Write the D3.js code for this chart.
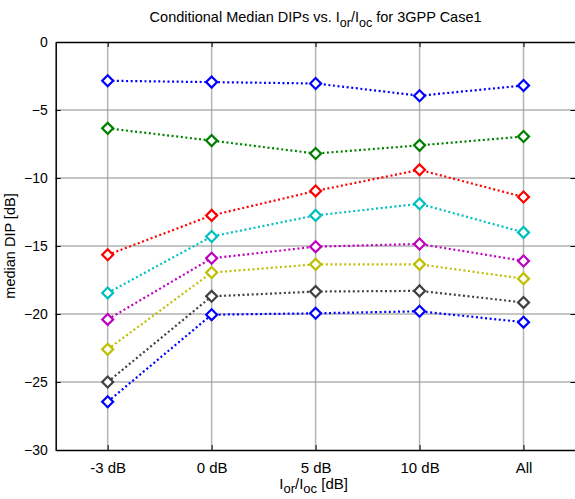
<!DOCTYPE html>
<html>
<head>
<meta charset="utf-8">
<script src="https://cdn.jsdelivr.net/npm/d3@7"></script>
<style>
  html, body { margin: 0; padding: 0; background: #fff; }
  svg { display: block; font-family: "Liberation Sans", Arial, sans-serif; }
</style>
</head>
<body>
<svg id="chart" width="575" height="499"></svg>
<script>
const categories = ["-3 dB", "0 dB", "5 dB", "10 dB", "All"];
const yTicks = [0, -5, -10, -15, -20, -25, -30];

const s1 = [-2.85, -2.95, -3.05, -3.95, -3.2];
const s2 = [-6.35, -7.25, -8.2, -7.6, -6.95];
const s3 = [-15.65, -12.75, -10.95, -9.4, -11.4];
const s4 = [-18.45, -14.3, -12.75, -11.9, -14.0];
const s5 = [-20.4, -15.9, -15.05, -14.85, -16.1];
const s6 = [-22.6, -16.95, -16.35, -16.35, -17.4];
const s7 = [-25.0, -18.7, -18.35, -18.3, -19.15];
const s8 = [-26.45, -20.05, -19.95, -19.8, -20.6];

const seriesValues = [s1, s2, s3, s4, s5, s6, s7, s8];
const seriesColors = ["#0000ff", "#008000", "#ff0000", "#00bfbf", "#bf00bf", "#bfbf00", "#404040", "#0000ff"];

const svg = d3.select("#chart");
const pLeft = 55.7, pRight = 575.5, pTop = 42, pBottom = 450;

const x = d3.scaleLinear().domain([0.5, categories.length + 0.5]).range([pLeft, pRight]);
const y = d3.scaleLinear().domain([-30, 0]).range([pBottom, pTop]);

// grid
const grid = svg.append("g");
grid.selectAll("line.v").data(categories).enter().append("line")
  .attr("x1", (d, i) => x(i + 1)).attr("x2", (d, i) => x(i + 1))
  .attr("y1", pTop).attr("y2", pBottom)
  .attr("stroke", "#b4b4b4").attr("stroke-width", 1.5);
grid.selectAll("line.h").data(yTicks.slice(1, -1)).enter().append("line")
  .attr("x1", pLeft).attr("x2", pRight)
  .attr("y1", d => y(d)).attr("y2", d => y(d))
  .attr("stroke", "#8c8c8c").attr("stroke-width", 1.2);

// axes (box)
const xAxisB = d3.axisBottom(x).tickValues(d3.range(1, categories.length + 1))
  .tickFormat(d => categories[d - 1]).tickSizeInner(-5).tickSizeOuter(0).tickPadding(12);
const xAxisT = d3.axisTop(x).tickValues(d3.range(1, categories.length + 1))
  .tickFormat("").tickSizeInner(-5).tickSizeOuter(0);
const yAxisL = d3.axisLeft(y).tickValues(yTicks).tickFormat(d3.format("d"))
  .tickSizeInner(-5).tickSizeOuter(0).tickPadding(8);
const yAxisR = d3.axisRight(y).tickValues(yTicks).tickFormat("")
  .tickSizeInner(-5).tickSizeOuter(0);

function style(g, size) {
  g.selectAll(".domain").attr("stroke", "#000").attr("stroke-width", 1.5);
  g.selectAll(".tick line").attr("stroke", "#000").attr("stroke-width", 1);
  g.selectAll(".tick text").attr("fill", "#000").style("font-size", size)
    .style("font-family", "'Liberation Sans', Arial, sans-serif");
}
svg.append("g").attr("transform", `translate(0,${pBottom})`).call(xAxisB).call(style, "15px");
svg.append("g").attr("transform", `translate(0,${pTop})`).call(xAxisT).call(style, "15px");
svg.append("g").attr("transform", `translate(${pLeft},0)`).call(yAxisL).call(style, "14px");
svg.append("g").attr("transform", `translate(${pRight},0)`).call(yAxisR).call(style, "14px");

// lines
const line = d3.line().x((d, i) => x(i + 1)).y(d => y(d));
seriesValues.forEach((vals, k) => {
  svg.append("path").datum(vals)
    .attr("d", line).attr("fill", "none")
    .attr("stroke", seriesColors[k]).attr("stroke-width", 2.2)
    .attr("stroke-dasharray", "2,2.6");
});
// markers
const diamond = d3.symbol().type(d3.symbolSquare).size(60);
seriesValues.forEach((vals, k) => {
  svg.append("g").selectAll("path").data(vals).enter().append("path")
    .attr("d", diamond)
    .attr("transform", (d, i) => `translate(${x(i + 1)},${y(d)}) rotate(45)`)
    .attr("fill", "#fff").attr("stroke", seriesColors[k]).attr("stroke-width", 2.2);
});

// title
const title = svg.append("text").attr("x", (pLeft + pRight) / 2).attr("y", 22)
  .attr("text-anchor", "middle").style("font-size", "14.5px").attr("fill", "#000");
title.append("tspan").text("Conditional Median DIPs vs. I");
title.append("tspan").attr("dy", 5).style("font-size", "12.5px").text("or");
title.append("tspan").attr("dy", -5).text("/I");
title.append("tspan").attr("dy", 5).style("font-size", "12.5px").text("oc");
title.append("tspan").attr("dy", -5).text(" for 3GPP Case1");

// x label
const xl = svg.append("text").attr("x", (pLeft + pRight) / 2 - 2).attr("y", 489)
  .attr("text-anchor", "middle").style("font-size", "15px").attr("fill", "#000");
xl.append("tspan").text("I");
xl.append("tspan").attr("dy", 4).style("font-size", "13px").text("or");
xl.append("tspan").attr("dy", -4).text("/I");
xl.append("tspan").attr("dy", 4).style("font-size", "13px").text("oc");
xl.append("tspan").attr("dy", -4).text(" [dB]");

// y label
svg.append("text").attr("transform", `translate(15,${(pTop + pBottom) / 2}) rotate(-90)`)
  .attr("text-anchor", "middle").style("font-size", "14.5px").attr("fill", "#000")
  .text("median DIP [dB]");
</script>
</body>
</html>
